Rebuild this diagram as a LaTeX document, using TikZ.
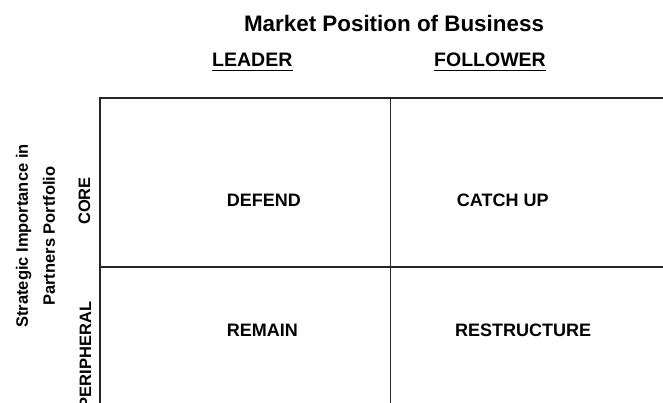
\documentclass[tikz,border=0pt]{standalone}
\usepackage{fontspec}
\setmainfont{Liberation Sans}
\begin{document}
\begin{tikzpicture}[x=1pt,y=-1pt,
  gridline/.style={line width=1.8pt,draw=black!85},
  lbl/.style={font=\bfseries\fontsize{#1}{#1}\selectfont,inner sep=0pt,text=black},
  ul/.style={line width=1.5pt,draw=black}]
\useasboundingbox (0,0) rectangle (663,403);
\clip (0,0) rectangle (663,403);
% grid
\coordinate (tl) at (100,98);
\coordinate (tr) at (670,98);
\coordinate (tm) at (390.5,98);
\coordinate (bl) at (100,410);
\coordinate (bm) at (390.5,410);
\coordinate (ml) at (100,267);
\coordinate (mr) at (670,267);
\draw[gridline] (bl) -- (tl) -- (tr);
\draw[gridline] (tm) -- (bm);
\draw[gridline] (ml) -- (mr);
% title and column headers
\node[lbl=22.4,anchor=base] (title) at (394,32) {Market Position of Business};
\node[lbl=19.5,anchor=base west] (leader) at (212,67) {LEADER};
\node[lbl=19.5,anchor=base west] (follower) at (434,67) {FOLLOWER};
\draw[ul] ([yshift=-3.5pt]leader.base west) -- ([yshift=-3.5pt]leader.base east);
\draw[ul] ([yshift=-3.5pt]follower.base west) -- ([yshift=-3.5pt]follower.base east);
% row labels
\node[lbl=16.5,rotate=90,align=center,font=\bfseries\fontsize{16.5}{27}\selectfont] (side) at (35.5,236) {Strategic Importance in\\Partners Portfolio};
\node[lbl=16.5,rotate=90,anchor=base] (core) at (90,201) {CORE};
\node[lbl=16.5,rotate=90,anchor=base] (peri) at (91,355) {PERIPHERAL};
% cells
\node[lbl=18,anchor=base west] (defend) at (226.7,206.7) {DEFEND};
\node[lbl=18,anchor=base west] (catch) at (456.7,206.7) {CATCH UP};
\node[lbl=18,anchor=base west] (remain) at (226.7,336.7) {REMAIN};
\node[lbl=18,anchor=base west] (restr) at (455,336.7) {RESTRUCTURE};
\end{tikzpicture}
\end{document}
